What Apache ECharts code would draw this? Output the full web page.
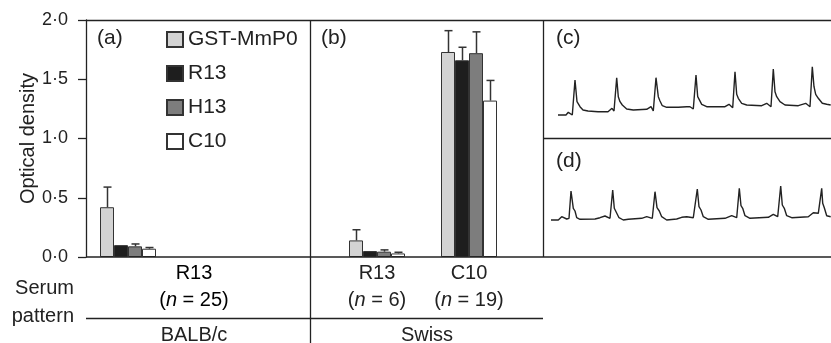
<!DOCTYPE html>
<html>
<head>
<meta charset="utf-8">
<script src="https://cdn.jsdelivr.net/npm/echarts@6/dist/echarts.min.js"></script>
<style>
  html, body { margin: 0; padding: 0; background: #fff; }
  #chart { width: 831px; height: 343px; }
</style>
</head>
<body>
<div id="chart"></div>
<script>
const FONT = '"Liberation Sans", Arial, sans-serif';
const INK = '#222';

// antigens (legend) and fills
const antigens = ['GST-MmP0', 'R13', 'H13', 'C10'];
const antigenColors = ['#d3d3d3', '#1e1e1e', '#7d7d7d', '#ffffff'];

// y axis
const yMin = 0, yMax = 2, yStep = 0.5;

// (a) BALB/c, serum pattern R13
const balbGroups = ['R13'];
const balbN = [25];
const balbMean = [0.42, 0.10, 0.09, 0.07];
const balbUpper = [0.59, 0.10, 0.11, 0.08];

// (b) Swiss, serum patterns R13 and C10
const swissGroups = ['R13', 'C10'];
const swissN = [6, 19];
const swissR13Mean = [0.14, 0.05, 0.045, 0.03];
const swissR13Upper = [0.23, 0.05, 0.06, 0.04];
const swissC10Mean = [1.73, 1.66, 1.72, 1.32];
const swissC10Upper = [1.91, 1.77, 1.90, 1.49];

// strain labels under the serum pattern line
const strains = ['BALB/c', 'Swiss'];
const panelLetters = ['(a)', '(b)', '(c)', '(d)'];

// (c) trace: [time, amplitude]
const traceC = [
  [15, 23], [23, 23], [25.3, 25.7], [29.3, 23], [32, 58], [34, 36.3], [37, 31.3], [40, 28],
  [45, 27], [55, 26.3], [65, 26.3], [69, 29.7], [71, 27],
  [73.7, 60.3], [75.3, 41.3], [77, 36.3], [79.3, 33], [83.7, 29], [90.3, 28], [103.7, 28.7],
  [108, 31.3], [110.3, 27],
  [113, 60.3], [115.3, 41.3], [117, 37], [119.3, 32.3], [123.7, 30.7], [135.3, 30.7],
  [143.7, 31.3], [147, 31.3], [150.3, 29],
  [153, 63], [154.7, 41.3], [156.3, 39.7], [158.7, 33.7], [163.7, 31.3], [182, 31.3],
  [186, 33.7], [189.7, 30.3],
  [192, 66.3], [193.7, 43.7], [195.3, 39.7], [198.7, 34.7], [203.7, 33], [218.7, 32.3],
  [223.7, 34.7], [228, 31.3],
  [230.3, 69], [232, 46.3], [233.7, 41.3], [237, 36.3], [242, 33], [255.3, 32.3],
  [262.7, 34.7], [267, 31.3],
  [269.3, 71.3], [271, 51.3], [272.7, 43.7], [275.3, 39.7], [279.3, 34.7], [283.7, 33.7], [287.7, 33]
];

// (d) trace: [time, amplitude]
const traceD = [
  [8, 37], [15.3, 37], [18.7, 40.3], [23.7, 38], [26, 38.7],
  [28, 66], [30.3, 48.7], [32, 46], [33.7, 39.3], [37, 37.7], [52, 38], [57, 39.3], [62, 41], [67, 38.7],
  [69.7, 67], [71.3, 48.7], [73, 47], [76, 39.3], [80.3, 37], [85.3, 37.7], [98.7, 38.7],
  [103.7, 40.3], [109.3, 38.7],
  [112, 65.3], [114, 49.3], [116.3, 46], [118.7, 40.3], [123.7, 37], [133.7, 38], [138.7, 39.7],
  [143.7, 40.3], [150.3, 39.3],
  [154.3, 68], [156, 50.3], [158, 47], [160.3, 40.3], [165.3, 37.7], [182, 38.7], [188.7, 41.3],
  [193.7, 39.3],
  [196.3, 68.7], [198, 51.3], [199.7, 48.7], [202, 41.3], [207, 38.7], [225.3, 39.7], [230.3, 42.7],
  [234.7, 40.3],
  [237.7, 71], [239.3, 52], [241.3, 48.7], [243.7, 41.3], [248.7, 39.3], [265.3, 40.3], [270.3, 44.3],
  [275.3, 43.7],
  [278.7, 68.7], [279.7, 53.7], [281.3, 49.3], [283.7, 41.3], [287.7, 40.3]
];

const BAR_W = 14;
const chart = echarts.init(document.getElementById('chart'), null, { renderer: 'canvas' });

const rich = {
  a: { fontFamily: FONT, fontSize: 20, color: INK, lineHeight: 27 },
  i: { fontFamily: FONT, fontSize: 20, color: INK, lineHeight: 27, fontStyle: 'italic' }
};
const groupLabel = (g, n) => `{a|${g}}\n{a|(}{i|n}{a| = ${n})}`;

function errorItem(params, api) {
  const cat = api.value(0), k = api.value(1), v = api.value(2), up = api.value(3);
  if (up <= v) return null;
  const base = api.coord([cat, v]);
  const top = api.coord([cat, up]);
  const x = Math.round(base[0] + (k - 1.5) * BAR_W) + 0.5;
  const st = { stroke: '#333', lineWidth: 1.5 };
  return {
    type: 'group',
    children: [
      { type: 'line', shape: { x1: x, y1: base[1], x2: x, y2: top[1] }, style: st },
      { type: 'line', shape: { x1: x - 4, y1: top[1], x2: x + 4, y2: top[1] }, style: st }
    ]
  };
}

const series = [];
antigens.forEach((name, k) => {
  const itemStyle = { color: antigenColors[k], borderColor: '#333', borderWidth: 1 };
  series.push({ type: 'bar', name, xAxisIndex: 0, yAxisIndex: 0, data: [balbMean[k]],
    barWidth: BAR_W, barGap: '0%', itemStyle });
  series.push({ type: 'bar', name, xAxisIndex: 1, yAxisIndex: 1,
    data: [swissR13Mean[k], swissC10Mean[k]], barWidth: BAR_W, barGap: '0%', itemStyle });
});
series.push({
  type: 'custom', xAxisIndex: 0, yAxisIndex: 0, silent: true, z: 5,
  renderItem: errorItem, encode: { x: 0, y: [2, 3] },
  data: antigens.map((_, k) => [0, k, balbMean[k], balbUpper[k]])
});
series.push({
  type: 'custom', xAxisIndex: 1, yAxisIndex: 1, silent: true, z: 5,
  renderItem: errorItem, encode: { x: 0, y: [2, 3] },
  data: antigens.flatMap((_, k) => [
    [0, k, swissR13Mean[k], swissR13Upper[k]],
    [1, k, swissC10Mean[k], swissC10Upper[k]]
  ])
});
series.push({ type: 'line', xAxisIndex: 2, yAxisIndex: 2, data: traceC, showSymbol: false,
  lineStyle: { color: INK, width: 1.4 }, silent: true });
series.push({ type: 'line', xAxisIndex: 3, yAxisIndex: 3, data: traceD, showSymbol: false,
  lineStyle: { color: INK, width: 1.4 }, silent: true });

const line = (x1, y1, x2, y2) => ({
  type: 'line', silent: true, z: 10,
  shape: { x1, y1, x2, y2 }, style: { stroke: INK, lineWidth: 1.3 }
});
const txt = (text, x, y, opts) => ({
  type: 'text', silent: true, z: 10,
  style: Object.assign({ text, x, y, font: `21px ${FONT}`, fill: INK }, opts || {})
});

const option = {
  backgroundColor: '#fff',
  animation: false,
  textStyle: { fontFamily: FONT },
  legend: {
    data: antigens, orient: 'vertical', left: 166, top: 29, padding: 0,
    itemWidth: 16, itemHeight: 15, itemGap: 13, selectedMode: false,
    icon: 'rect',
    textStyle: { fontFamily: FONT, fontSize: 21, color: INK, lineHeight: 21 }
  },
  grid: [
    { left: 86, top: 20, width: 84, height: 237 },
    { left: 331, top: 20, width: 184, height: 237 },
    { left: 543, top: 20, width: 288, height: 118 },
    { left: 543, top: 138, width: 288, height: 119 }
  ],
  xAxis: [
    { gridIndex: 0, type: 'category', data: balbGroups, axisLine: { show: false },
      axisTick: { show: false }, axisLabel: { show: false } },
    { gridIndex: 1, type: 'category', data: swissGroups, axisLine: { show: false },
      axisTick: { show: false },
      axisLabel: { interval: 0, hideOverlap: false, margin: 3,
        formatter: (v, i) => groupLabel(v, swissN[i]), rich } },
    { gridIndex: 2, type: 'value', min: 0, max: 288, show: false },
    { gridIndex: 3, type: 'value', min: 0, max: 288, show: false }
  ],
  yAxis: [
    { gridIndex: 0, type: 'value', min: yMin, max: yMax, interval: yStep,
      axisLine: { show: true, lineStyle: { color: INK, width: 1.3 } },
      axisTick: { show: true, length: 8, lineStyle: { color: INK, width: 1.3 } },
      axisLabel: { margin: 18, fontFamily: FONT, fontSize: 18, color: INK,
        formatter: v => v.toFixed(1).replace('.', '\u00b7') },
      splitLine: { show: false },
      name: 'Optical density', nameLocation: 'middle', nameGap: 47,
      nameTextStyle: { fontFamily: FONT, fontSize: 20, color: INK } },
    { gridIndex: 1, type: 'value', min: yMin, max: yMax, interval: yStep, show: false },
    { gridIndex: 2, type: 'value', min: 0, max: 118, show: false },
    { gridIndex: 3, type: 'value', min: 0, max: 119, show: false }
  ],
  series,
  graphic: [
    line(86, 20.5, 831, 20.5),
    line(86, 257, 831, 257),
    line(310.5, 20, 310.5, 343),
    line(543.5, 20, 543.5, 257),
    line(543, 138.5, 831, 138.5),
    line(86, 318.5, 543, 318.5),
    txt(panelLetters[0], 97, 38, { verticalAlign: 'middle' }),
    txt(panelLetters[1], 321, 38, { verticalAlign: 'middle' }),
    txt(panelLetters[2], 556, 38, { verticalAlign: 'middle' }),
    txt(panelLetters[3], 556, 161, { verticalAlign: 'middle' }),
    {
      type: 'text', silent: true, z: 10,
      style: { text: groupLabel(balbGroups[0], balbN[0]), rich, x: 194, y: 260,
        align: 'center', verticalAlign: 'top' }
    },
    txt('Serum\npattern', 74, 302, { align: 'right', verticalAlign: 'middle', lineHeight: 28, font: `20px ${FONT}` }),
    txt(strains[0], 194, 335, { align: 'center', verticalAlign: 'middle', font: `20px ${FONT}` }),
    txt(strains[1], 427, 335, { align: 'center', verticalAlign: 'middle', font: `20px ${FONT}` })
  ]
};

chart.setOption(option);
</script>
</body>
</html>
